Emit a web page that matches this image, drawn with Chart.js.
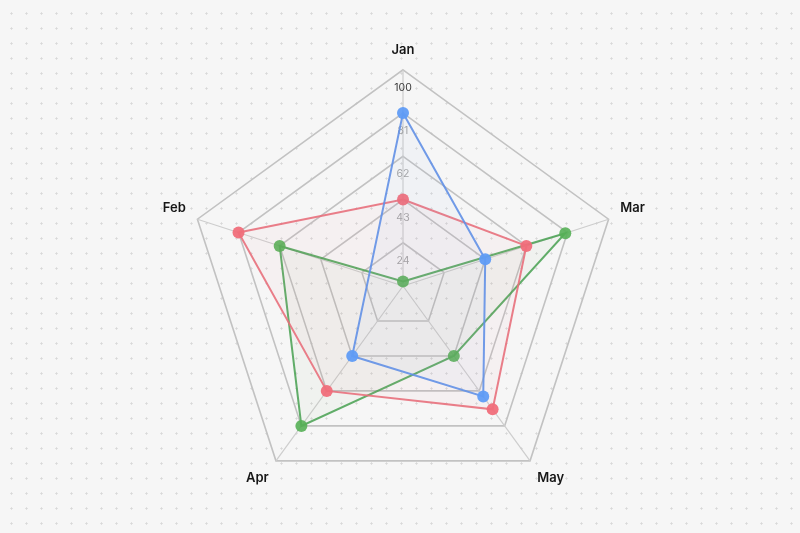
<!DOCTYPE html>
<html>
<head>
<meta charset="utf-8">
<script src="https://cdn.jsdelivr.net/npm/chart.js@4"></script>
<style>
  html, body { margin: 0; padding: 0; }
  body {
    width: 800px; height: 533px; overflow: hidden;
    background-color: #f6f6f6;
    background-image: radial-gradient(circle, #d8d8d8 0.9px, transparent 1.3px);
    background-size: 15px 15px;
    background-position: 4px 6px;
  }
  #wrap { position: relative; width: 800px; height: 533px; }
</style>
</head>
<body>
<div id="wrap"><canvas id="myChart"></canvas></div>
<script>
// Ejes del radar, en el orden en que se dibujan (sentido horario desde arriba)
const etiquetas = ['Jan', 'Mar', 'May', 'Apr', 'Feb'];

// Series (mismo orden que las etiquetas)
const serieAzul  = [81, 43, 65, 43, null];
const serieRoja  = [43, 62, 72, 62, 81];
const serieVerde = [7, 80, 43, 81, 62];

// Escala radial
const escalaMin = 5;
const escalaMax = 100;
const escalaPaso = 19;

const ctx = document.getElementById('myChart').getContext('2d');

new Chart(ctx, {
    type: 'radar',
    data: {
        labels: etiquetas,
        datasets: [
            {
                label: 'Azul',
                data: serieAzul,
                borderColor: 'rgba(98, 144, 230, 0.9)',
                backgroundColor: 'rgba(110, 160, 240, 0.045)',
                pointBackgroundColor: 'rgba(96, 156, 245, 0.95)',
                pointBorderColor: 'rgba(96, 156, 245, 0.95)',
                spanGaps: true,
                fill: true
            },
            {
                label: 'Roja',
                data: serieRoja,
                borderColor: 'rgba(232, 112, 124, 0.9)',
                backgroundColor: 'rgba(240, 120, 130, 0.045)',
                pointBackgroundColor: 'rgba(240, 110, 122, 0.95)',
                pointBorderColor: 'rgba(240, 110, 122, 0.95)',
                fill: true
            },
            {
                label: 'Verde',
                data: serieVerde,
                borderColor: 'rgba(70, 160, 80, 0.85)',
                backgroundColor: 'rgba(120, 160, 100, 0.045)',
                pointBackgroundColor: 'rgba(86, 176, 86, 0.9)',
                pointBorderColor: 'rgba(86, 176, 86, 0.9)',
                fill: true
            }
        ]
    },
    options: {
        responsive: true,
        maintainAspectRatio: false,
        animation: false,
        layout: {
            padding: { top: 32, bottom: 12, left: 6, right: 0 }
        },
        elements: {
            line: { borderWidth: 2, tension: 0 },
            point: { radius: 6, borderWidth: 0, hoverRadius: 7 }
        },
        scales: {
            r: {
                min: escalaMin,
                max: escalaMax,
                grid: { color: '#c2c2c2', lineWidth: 1.6 },
                angleLines: { color: '#cdcdcd', lineWidth: 1.2 },
                ticks: {
                    stepSize: escalaPaso,
                    showLabelBackdrop: false,
                    font: { family: 'Inter, "Liberation Sans", sans-serif', size: 10.5, lineHeight: '18px' },
                    color: (c) => c.tick && c.tick.value === escalaMax ? '#3a3a3a' : '#a4a4a4',
                    // etiqueta desplazada bajo el anillo
                    callback: (v) => ['', String(v)]
                },
                pointLabels: {
                    padding: 5,
                    color: '#161616',
                    font: { family: 'Inter, "Liberation Sans", sans-serif', size: 13, weight: '600' }
                }
            }
        },
        plugins: {
            legend: { display: false },
            tooltip: { enabled: false }
        }
    }
});
</script>
</body>
</html>
